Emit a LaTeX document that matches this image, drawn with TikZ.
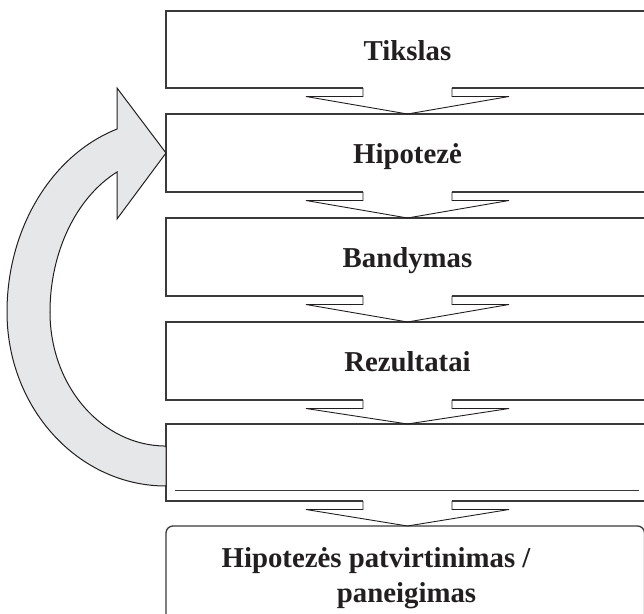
\documentclass[tikz,border=0pt]{standalone}
\usepackage{fontspec}
\setmainfont{Liberation Serif}
\usetikzlibrary{calc}
\definecolor{loopgray}{HTML}{E6E7E8}
\definecolor{edgecol}{HTML}{3A3A3A}
\definecolor{linecol}{HTML}{231F20}
\newcommand\flowarrow[2]{%
  \fill[white] ($(#1.south)+(-44.5,1)$) rectangle ($(#1.south)+(44.5,-8.5)$);
  \draw[flowline] ($(#1.south)+(-44.5,0)$) -- ++(0,-8.5) -- ++(-57,0)
    -- (#1.south |- #2.north) -- ($(#1.south)+(101.5,-8.5)$) -- ++(-57,0) -- ++(0,8.5);
}
\begin{document}
\begin{tikzpicture}[x=1pt,y=1pt,
  txt/.style={font=\fontsize{28.8}{35}\selectfont\bfseries, text=linecol},
  stepbox/.style={draw=edgecol, line width=1.3pt, fill=white, minimum width=483pt,
    minimum height=#1, inner sep=0pt, outer sep=0pt, txt, text height=24pt, text depth=2pt},
  finalbox/.style={draw=edgecol, line width=1.3pt, fill=white, rounded corners=7pt,
    minimum width=478.5pt, minimum height=108pt, inner sep=0pt, outer sep=0pt},
  flowline/.style={draw=linecol, line width=0.9pt, line join=miter},
  loopline/.style={draw=linecol, line width=1pt, fill=loopgray, line join=miter},
  sepline/.style={draw=edgecol, line width=0.8pt}]
\useasboundingbox (0,0) rectangle (644,613);
\clip (0,0) rectangle (644,613);
\fill[white] (0,0) rectangle (644,613);
% boxes
\node[stepbox=77pt] (b1) at (407.5,563.5) {Tikslas};
\node[stepbox=78pt] (b2) at (407.5,460) {Hipotezė};
\node[stepbox=78pt] (b3) at (407.5,356) {Bandymas};
\node[stepbox=78pt] (b4) at (407.5,252) {Rezultatai};
\node[stepbox=77pt] (b5) at (407.5,150.5) {};
\node[finalbox] (b6) at (405.25,33) {};
\node[txt, anchor=base] (t6a) at (376,46) {Hipotezės patvirtinimas /};
\node[txt, anchor=base] (t6b) at (406.5,11) {paneigimas};
% separator line in box 5
\draw[sepline] ($(b5.south west)+(9,11)$) -- ($(b5.south east)+(-10,11)$);
% block arrows
\flowarrow{b1}{b2}
\flowarrow{b2}{b3}
\flowarrow{b3}{b4}
\flowarrow{b4}{b5}
\flowarrow{b5}{b6}
% loop arrow from box 5 back to box 2
\draw[loopline] ($(b5.west)+(0,-23.5)$)
  arc[start angle=270, end angle=180, x radius=159, y radius=174]
  arc[start angle=180, end angle=108.2, x radius=160, y radius=192.6]
  -- (117,525) -- (b2.west) -- (117,394) -- (117,441)
  arc[start angle=115.3, end angle=180, x radius=117, y radius=154.9]
  arc[start angle=180, end angle=270, x radius=116, y radius=134]
  -- cycle;
\end{tikzpicture}
\end{document}
